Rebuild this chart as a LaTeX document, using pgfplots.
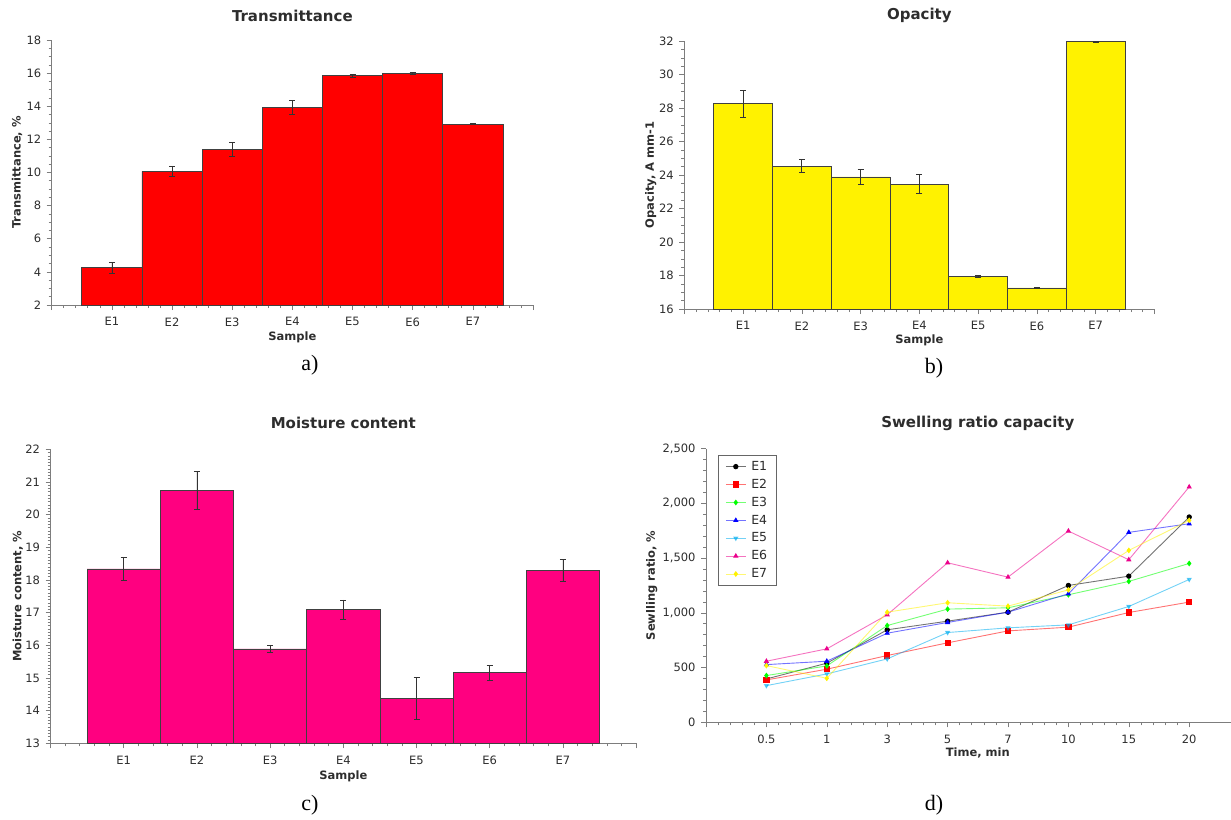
\documentclass[border=0pt]{standalone}
\usepackage{fontspec}
\setmainfont{DejaVu Sans}
\newfontfamily\capfont{Liberation Serif}
\usepackage{pgfplots}
\pgfplotsset{compat=1.18}

\definecolor{axgray}{RGB}{125,125,125}
\definecolor{txt}{RGB}{45,45,45}
\definecolor{pinkbar}{RGB}{255,0,128}

\pgfplotsset{
  panel/.style={
    scale only axis,
    axis x line*=bottom, axis y line*=left,
    axis line style={axgray, line width=0.8pt, -},
    tick align=outside, tick pos=left,
    major tick length=5pt, minor tick length=3pt,
    tick style={axgray, line width=0.6pt},
    tick label style={font=\fontsize{11.5}{13}\selectfont, text=txt},
    xticklabel style={yshift=-4pt},
    yticklabel style={xshift=-2pt},
    label style={font=\bfseries\fontsize{11.5}{13}\selectfont, text=txt},
    title style={font=\bfseries\fontsize{15}{17}\selectfont, text=txt},
    /pgf/number format/assume math mode=true,
    minor x tick num=4,
  },
  barpanel/.style={
    panel, xmin=0, xmax=8, xtick={0,...,8},
    xticklabels={{},E1,E2,E3,E4,E5,E6,E7,{}},
  },
  bars/.style={ybar, bar width=1, draw=black!75, line width=0.6pt,
    error bars/y dir=both, error bars/y explicit,
    error bars/error mark=-,
    error bars/error bar style={black!80, line width=0.7pt},
    error bars/error mark options={rotate=90, black!80, line width=0.7pt, mark size=3pt}},
  swell/.style={line width=0.9pt, opacity=0.55, mark size=2.2pt,
    mark options={opacity=1, solid}},
}

\begin{document}
\begin{tikzpicture}
\useasboundingbox (0pt,0pt) rectangle (1231pt,-819pt);

% (a) transmittance
\begin{axis}[barpanel, at={(51.7pt,-305pt)}, anchor=south west,
  width=481.3pt, height=265pt,
  ymin=2, ymax=18, ytick={2,4,...,18}, minor y tick num=3,
  title={Transmittance},
  title style={at={(axis description cs:0.5,1.069)}, anchor=center},
  xlabel={Sample},
  xlabel style={at={(axis description cs:0.5,-0.121)}, anchor=center},
  ylabel={Transmittance, \%},
  ylabel style={at={(axis description cs:-0.072,0.5)}, anchor=center}]
\addplot[bars, fill=red] table[x=x, y=y, y error=e] {
x y e
1 4.25 0.33
2 10.07 0.33
3 11.38 0.42
4 13.92 0.42
5 15.84 0.07
6 15.99 0.05
7 12.91 0.03
};
\end{axis}

% (b) opacity
\begin{axis}[barpanel, at={(684.3pt,-309pt)}, anchor=south west,
  width=470pt, height=267.7pt,
  ymin=16, ymax=32, ytick={16,18,...,32}, minor y tick num=3,
  title={Opacity},
  title style={at={(axis description cs:0.5,1.073)}, anchor=center},
  xlabel={Sample},
  xlabel style={at={(axis description cs:0.5,-0.118)}, anchor=center},
  ylabel={Opacity, A mm-1},
  ylabel style={at={(axis description cs:-0.0715,0.5)}, anchor=center}]
\addplot[bars, fill=yellow] table[x=x, y=y, y error=e] {
x y e
1 28.27 0.80
2 24.54 0.40
3 23.90 0.42
4 23.47 0.55
5 17.95 0.07
6 17.26 0.03
7 31.98 0.02
};
\end{axis}

% (c) moisture content
\begin{axis}[barpanel, at={(50.5pt,-743.3pt)}, anchor=south west,
  width=585.6pt, height=294pt,
  ymin=13, ymax=22, ytick={13,...,22}, minor y tick num=9,
  title={Moisture content},
  title style={at={(axis description cs:0.5,1.068)}, anchor=center},
  xlabel={Sample},
  xlabel style={at={(axis description cs:0.5,-0.1136)}, anchor=center},
  ylabel={Moisture content, \%},
  ylabel style={at={(axis description cs:-0.0558,0.5)}, anchor=center}]
\addplot[bars, fill=pinkbar] table[x=x, y=y, y error=e] {
x y e
1 18.34 0.35
2 20.75 0.58
3 15.89 0.12
4 17.10 0.29
5 14.38 0.64
6 15.16 0.23
7 18.29 0.34
};
\end{axis}

% (d) swelling ratio
\begin{axis}[panel, at={(706pt,-722.3pt)}, anchor=south west,
  width=543.6pt, height=273.7pt,
  xmin=0, xmax=9, xtick={0,...,8},
  xticklabels={{},0.5,1,3,5,7,10,15,20},
  ymin=0, ymax=2500, ytick={0,500,...,2500}, minor y tick num=4,
  /pgf/number format/1000 sep={,},
  title={Swelling ratio capacity},
  title style={at={(axis description cs:0.5,1.0716)}, anchor=center},
  xlabel={Time, min},
  xlabel style={at={(axis description cs:0.5,-0.112)}, anchor=center},
  ylabel={Sewlling ratio, \%},
  ylabel style={at={(axis description cs:-0.0997,0.5)}, anchor=center},
  legend cell align=left,
  legend image code/.code={
    \draw[mark repeat=2, mark phase=2] plot coordinates {(0pt,0pt) (10pt,0pt) (20pt,0pt)};},
  legend style={at={(axis description cs:0.022,0.977)}, anchor=north west,
    draw=black!60, line width=0.8pt, row sep=3.2pt,
    inner xsep=7pt, inner ysep=4pt,
    /tikz/every odd column/.append style={column sep=3pt},
    font=\fontsize{12.5}{14}\selectfont, text=txt}]
\addplot[swell, color=black, mark=*] coordinates {
(1,396) (2,540) (3,845) (4,924) (5,1006) (6,1250) (7,1335) (8,1875)};
\addlegendentry{E1}
\addplot[swell, color=red, mark=square*, mark size=2.6pt] coordinates {
(1,387) (2,485) (3,610) (4,726) (5,835) (6,869) (7,1003) (8,1098)};
\addlegendentry{E2}
\addplot[swell, color=green, mark=diamond*] coordinates {
(1,427) (2,515) (3,884) (4,1034) (5,1046) (6,1165) (7,1287) (8,1451)};
\addlegendentry{E3}
\addplot[swell, color=blue, mark=triangle*] coordinates {
(1,527) (2,558) (3,814) (4,912) (5,1006) (6,1174) (7,1735) (8,1814)};
\addlegendentry{E4}
\addplot[swell, color=cyan, mark=triangle*, mark options={rotate=180}] coordinates {
(1,335) (2,442) (3,579) (4,820) (5,863) (6,890) (7,1058) (8,1305)};
\addlegendentry{E5}
\addplot[swell, color=magenta, mark=triangle*] coordinates {
(1,558) (2,671) (3,982) (4,1457) (5,1326) (6,1747) (7,1485) (8,2150)};
\addlegendentry{E6}
\addplot[swell, color=yellow, mark=diamond*] coordinates {
(1,518) (2,402) (3,1006) (4,1092) (5,1061) (6,1210) (7,1570) (8,1845)};
\addlegendentry{E7}
\end{axis}

\node[font=\capfont\fontsize{22}{24}\selectfont] at (310pt,-365pt) {a)};
\node[font=\capfont\fontsize{22}{24}\selectfont] at (934pt,-368pt) {b)};
\node[font=\capfont\fontsize{22}{24}\selectfont] at (310pt,-805pt) {c)};
\node[font=\capfont\fontsize{22}{24}\selectfont] at (934pt,-805pt) {d)};
\end{tikzpicture}
\end{document}
